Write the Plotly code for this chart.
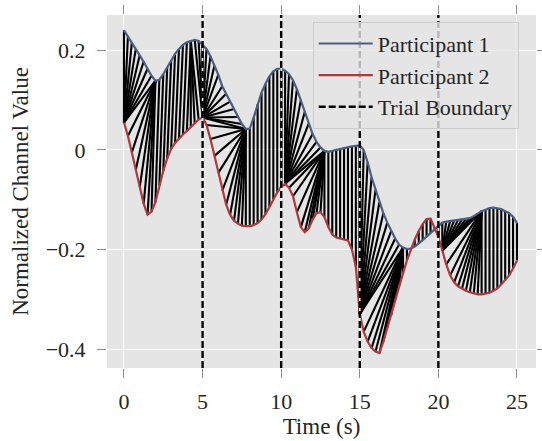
import numpy as np
import plotly.graph_objects as go

# ---------------- data ----------------
time_s = np.arange(0, 25.001, 0.25)

participant_1 = [
    0.240, 0.228, 0.216, 0.203, 0.190, 0.177, 0.163, 0.149, 0.139, 0.141,
    0.152, 0.166, 0.180, 0.193, 0.203, 0.211, 0.216, 0.219, 0.221, 0.219,
    0.212, 0.203, 0.188, 0.169, 0.151, 0.128, 0.113, 0.097, 0.082, 0.066,
    0.052, 0.042, 0.043, 0.065, 0.092, 0.115, 0.133, 0.148, 0.158, 0.163,
    0.163, 0.159, 0.152, 0.140, 0.122, 0.100, 0.076, 0.053, 0.032, 0.016,
    0.005, -0.002, -0.004, -0.002, 0.000, 0.002, 0.004, 0.006, 0.007, 0.008,
    0.009, 0.000, -0.025, -0.055, -0.080, -0.105, -0.127, -0.146, -0.163, -0.178,
    -0.190, -0.196, -0.199, -0.198, -0.194, -0.188, -0.181, -0.174, -0.167, -0.160,
    -0.152, -0.146, -0.144, -0.143, -0.142, -0.141, -0.140, -0.139, -0.137, -0.133,
    -0.128, -0.123, -0.120, -0.117, -0.116, -0.117, -0.119, -0.123, -0.127, -0.134,
    -0.147,
]

participant_2 = [
    0.055, 0.028, -0.005, -0.040, -0.075, -0.108, -0.130, -0.124, -0.105, -0.072,
    -0.042, -0.017, 0.002, 0.014, 0.023, 0.031, 0.038, 0.045, 0.052, 0.061,
    0.065, 0.050, 0.022, -0.012, -0.046, -0.082, -0.110, -0.130, -0.142, -0.148,
    -0.152, -0.153, -0.153, -0.151, -0.147, -0.140, -0.129, -0.115, -0.099, -0.085,
    -0.074, -0.068, -0.076, -0.093, -0.125, -0.155, -0.165, -0.158, -0.140, -0.127,
    -0.125, -0.135, -0.155, -0.170, -0.176, -0.178, -0.179, -0.182, -0.200, -0.235,
    -0.330, -0.365, -0.385, -0.398, -0.405, -0.408, -0.385, -0.357, -0.332, -0.300,
    -0.272, -0.248, -0.222, -0.200, -0.180, -0.163, -0.149, -0.139, -0.138, -0.156,
    -0.175, -0.202, -0.230, -0.252, -0.266, -0.274, -0.279, -0.283, -0.286, -0.288,
    -0.290, -0.290, -0.289, -0.287, -0.283, -0.278, -0.270, -0.262, -0.252, -0.238,
    -0.222,
]

trial_boundaries = [5, 10, 15, 20]

# Alignment (warping) path corners per trial: (Participant 1 time, Participant 2 time)
warp_trial_1 = [(0, 0), (2.0, 0), (2.0, 1.75), (4.25, 4.0), (4.25, 4.75), (5, 5)]
warp_trial_2 = [(5, 5), (7.75, 5), (7.75, 7.75), (10, 10)]
warp_trial_3 = [(10, 10), (10.25, 10.25), (12.75, 10.25), (12.75, 12.75), (15, 15)]
warp_trial_4 = [(15, 15), (17.75, 15), (17.75, 17.75), (20, 20)]
warp_trial_5 = [(20, 20), (20.25, 20.25), (22.75, 20.25), (22.75, 22.75), (25, 25)]

x_tick_vals = [0, 5, 10, 15, 20, 25]
x_tick_text = ["0", "5", "10", "15", "20", "25"]
y_tick_vals = [0.2, 0.0, -0.2, -0.4]
y_tick_text = ["0.2", "0", "\u22120.2", "\u22120.4"]

series_names = ["Participant 1", "Participant 2", "Trial Boundary"]

# ---------------- styles ----------------
C_P1 = "#4a5f80"
C_P2 = "#ab3a3d"
BG = "#e5e5e5"
FONT = "Liberation Serif"
FS_TICK = 22
FS_TITLE = 23
FS_LEG = 22

t = np.asarray(time_s)
p1 = np.asarray(participant_1)
p2 = np.asarray(participant_2)


def idx_of(ts):
    return int(np.argmin(np.abs(t - ts)))


def walk(corners):
    pairs = []
    i, j = idx_of(corners[0][0]), idx_of(corners[0][1])
    pairs.append((i, j))
    for c1, c2 in corners[1:]:
        ti, tj = idx_of(c1), idx_of(c2)
        while i != ti or j != tj:
            if i < ti:
                i += 1
            if j < tj:
                j += 1
            pairs.append((i, j))
    return pairs


seg_x, seg_y = [], []
for corners in [warp_trial_1, warp_trial_2, warp_trial_3, warp_trial_4, warp_trial_5]:
    for i, j in walk(corners):
        seg_x += [t[i], t[j], None]
        seg_y += [p1[i], p2[j], None]

fig = go.Figure()

fig.add_trace(go.Scatter(
    x=seg_x, y=seg_y, mode="lines",
    line=dict(color="black", width=2.1),
    showlegend=False, hoverinfo="skip",
))
fig.add_trace(go.Scatter(
    x=t, y=p1, mode="lines", name=series_names[0],
    line=dict(color=C_P1, width=2.2),
))
fig.add_trace(go.Scatter(
    x=t, y=p2, mode="lines", name=series_names[1],
    line=dict(color=C_P2, width=2.2),
))
fig.add_trace(go.Scatter(
    x=[None], y=[None], mode="lines", name=series_names[2],
    line=dict(color="black", width=2.4, dash="7px,3px"),
))

for b in trial_boundaries:
    fig.add_shape(type="line", xref="x", yref="paper", x0=b, x1=b, y0=0, y1=1,
                  line=dict(color="white", width=1.5), layer="above")
    fig.add_shape(type="line", xref="x", yref="paper", x0=b, x1=b, y0=0, y1=1,
                  line=dict(color="black", width=2.4, dash="7px,3px"), layer="above")

axis_common = dict(
    showgrid=True, gridcolor="white", gridwidth=1.2,
    zeroline=False, showline=False,
    ticks="outside", ticklen=9, tickwidth=1.4, tickcolor="#8f8f8f",
    mirror="ticks",
    tickfont=dict(family=FONT, size=FS_TICK, color="#262626"),
)

fig.update_layout(
    width=542, height=441,
    margin=dict(l=107, r=6, t=15, b=70),
    paper_bgcolor="white", plot_bgcolor=BG,
    font=dict(family=FONT, size=FS_TICK, color="#262626"),
    xaxis=dict(
        range=[-1.08, 26.21], tickvals=x_tick_vals, ticktext=x_tick_text,
        title=dict(text="Time (s)", font=dict(family=FONT, size=FS_TITLE), standoff=4),
        ticklabelstandoff=5,
        **axis_common,
    ),
    yaxis=dict(
        range=[-0.438, 0.271], tickvals=y_tick_vals, ticktext=y_tick_text,
        title=dict(text="Normalized Channel Value", font=dict(family=FONT, size=FS_TITLE), standoff=10),
        ticklabelstandoff=7,
        **axis_common,
    ),
    legend=dict(
        x=0.4795, y=0.981, xanchor="left", yanchor="top",
        bgcolor="rgba(229,229,229,0.8)", bordercolor="#cccccc", borderwidth=1,
        font=dict(family=FONT, size=FS_LEG, color="#262626"),
        tracegroupgap=0, itemwidth=54,
    ),
    showlegend=True,
)

fig.write_html("out.html")
